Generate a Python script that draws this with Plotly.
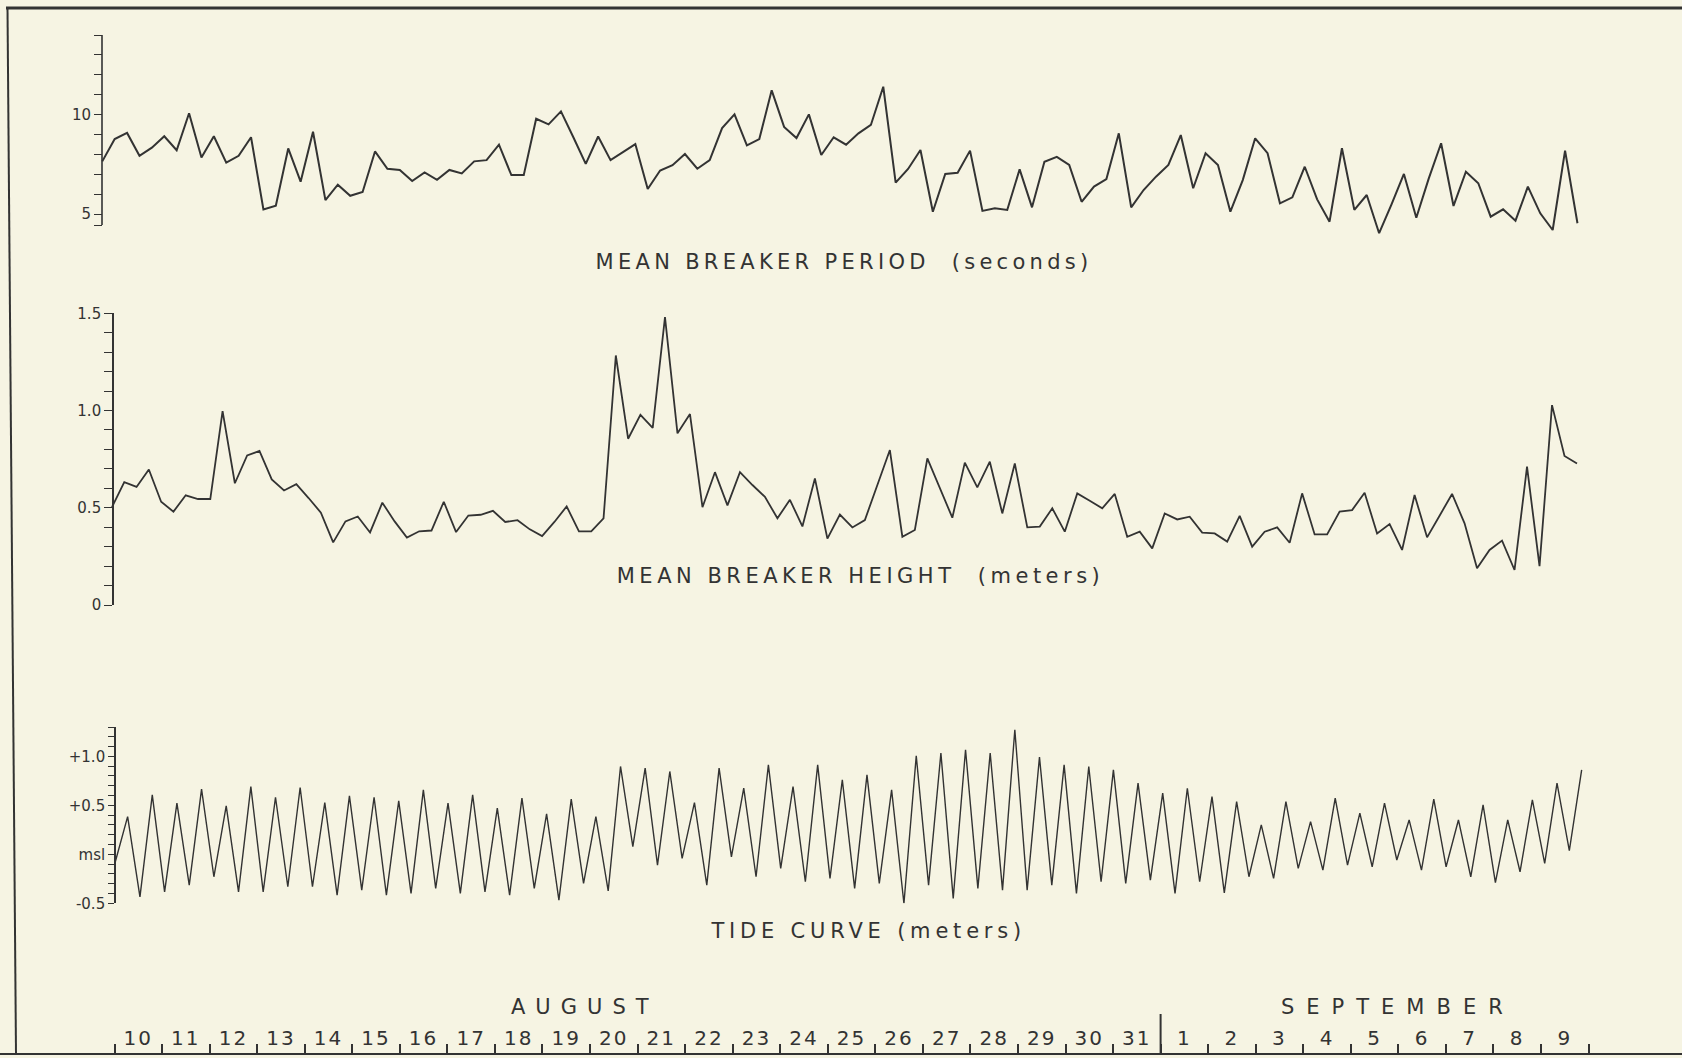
import json
import numpy as np
import plotly.graph_objects as go

# ---------------- data ----------------
DAY_LABELS = [str(d) for d in range(10, 32)] + [str(d) for d in range(1, 10)]
MONTH_LABELS = ["AUGUST", "SEPTEMBER"]
MONTH_CENTERS = [9.9, 27.0]           # days after 10 Aug 00h
MONTH_BREAK = 22                       # 1 September

PERIOD_TIME_ANCHORS = [(0, -0.257), (119, 30.767)]
HEIGHT_TIME_ANCHORS = [(0, -0.053), (45, 11.577), (118, 30.757)]
TIDE_TIME_ANCHORS = [(0, 0.017), (119, 30.855)]

PERIOD_S = [7.65, 8.77, 9.08, 7.93, 8.34, 8.91, 8.21, 10.07, 7.84, 8.91,
            7.59, 7.93, 8.86, 5.23, 5.42, 8.30, 6.63, 9.14, 5.70, 6.48,
            5.92, 6.11, 8.15, 7.28, 7.22, 6.66, 7.09, 6.72, 7.22, 7.04,
            7.65, 7.71, 8.49, 6.96, 6.96, 9.79, 9.51, 10.16, 8.86, 7.52,
            8.90, 7.71, 8.11, 8.52, 6.26, 7.19, 7.46, 8.02, 7.28, 7.71,
            9.32, 10.01, 8.45, 8.77, 11.22, 9.38, 8.82, 10.01, 7.97, 8.86,
            8.49, 9.06, 9.48, 11.40, 6.58, 7.27, 8.22, 5.12, 7.02, 7.08,
            8.19, 5.16, 5.29, 5.21, 7.25, 5.34, 7.63, 7.88, 7.47, 5.62,
            6.38, 6.76, 9.06, 5.34, 6.21, 6.88, 7.47, 8.97, 6.30, 8.06,
            7.47, 5.12, 6.71, 8.81, 8.06, 5.54, 5.84, 7.38, 5.74, 4.62,
            8.31, 5.21, 5.96, 4.04, 5.49, 7.02, 4.82, 6.78, 8.56, 5.41,
            7.13, 6.55, 4.87, 5.24, 4.67, 6.38, 5.04, 4.20, 8.19, 4.54]

HEIGHT_M = [0.503, 0.632, 0.607, 0.697, 0.531, 0.480, 0.564, 0.545, 0.545, 0.997,
            0.626, 0.769, 0.792, 0.646, 0.589, 0.621, 0.55, 0.475, 0.322, 0.430,
            0.455, 0.373, 0.526, 0.43, 0.347, 0.379, 0.383, 0.531, 0.375, 0.46,
            0.464, 0.484, 0.427, 0.436, 0.389, 0.354, 0.427, 0.507, 0.379, 0.379,
            0.446, 1.283, 0.855, 0.978, 0.911, 1.48, 0.883, 0.982, 0.503, 0.683,
            0.512, 0.683, 0.617, 0.556, 0.446, 0.541, 0.404, 0.651, 0.341, 0.465,
            0.399, 0.437, 0.617, 0.797, 0.351, 0.386, 0.754, 0.602, 0.449, 0.732,
            0.605, 0.737, 0.471, 0.728, 0.399, 0.403, 0.497, 0.377, 0.574, 0.536,
            0.497, 0.571, 0.351, 0.377, 0.291, 0.471, 0.440, 0.454, 0.372, 0.368,
            0.326, 0.458, 0.300, 0.377, 0.399, 0.320, 0.574, 0.363, 0.363, 0.480,
            0.488, 0.577, 0.368, 0.416, 0.283, 0.566, 0.348, 0.459, 0.571, 0.420,
            0.189, 0.283, 0.331, 0.180, 0.711, 0.200, 1.028, 0.766, 0.728]

TIDE_M = [-0.076, 0.385, -0.434, 0.607, -0.383, 0.522, -0.314, 0.665, -0.229, 0.494,
          -0.383, 0.692, -0.383, 0.583, -0.331, 0.682, -0.331, 0.528, -0.417, 0.597,
          -0.365, 0.583, -0.417, 0.546, -0.399, 0.658, -0.348, 0.522, -0.399, 0.607,
          -0.383, 0.471, -0.417, 0.573, -0.348, 0.412, -0.468, 0.563, -0.297, 0.385,
          -0.373, 0.897, 0.078, 0.880, -0.110, 0.846, -0.041, 0.528, -0.314, 0.880,
          -0.025, 0.675, -0.229, 0.914, -0.143, 0.692, -0.280, 0.914, -0.246, 0.76,
          -0.348, 0.812, -0.297, 0.658, -0.502, 1.006, -0.314, 1.034, -0.45, 1.068,
          -0.348, 1.034, -0.365, 1.272, -0.365, 0.993, -0.314, 0.914, -0.399, 0.897,
          -0.280, 0.863, -0.297, 0.727, -0.263, 0.624, -0.399, 0.675, -0.280, 0.590,
          -0.393, 0.538, -0.229, 0.300, -0.246, 0.538, -0.143, 0.334, -0.161, 0.573,
          -0.110, 0.420, -0.127, 0.522, -0.058, 0.351, -0.161, 0.563, -0.127, 0.351,
          -0.229, 0.505, -0.29, 0.351, -0.178, 0.556, -0.092, 0.727, 0.037, 0.863]

PERIOD_RANGE = [4, 14]
PERIOD_AXIS_SPAN = [4.45, 14]          # drawn extent of the period axis
PERIOD_TICKS = [4.45] + list(range(5, 15))
PERIOD_TICKTEXT = {5: "5", 10: "10"}
HEIGHT_RANGE = [0, 1.5]
HEIGHT_TICKS = [round(0.1 * i, 1) for i in range(0, 16)]
HEIGHT_TICKTEXT = {0.0: "0", 0.5: "0.5", 1.0: "1.0", 1.5: "1.5"}
TIDE_RANGE = [-0.5, 1.3]
TIDE_TICKS = [round(-0.5 + 0.1 * i, 1) for i in range(0, 19)]
TIDE_TICKTEXT = {-0.5: "-0.5", 0.0: "msl", 0.5: "+0.5", 1.0: "+1.0"}

TITLES = ["MEAN BREAKER PERIOD  (seconds)", "MEAN BREAKER HEIGHT  (meters)",
          "TIDE CURVE (meters)"]

# ---------------- styling ----------------
W, H = 1682, 1058
BG = "#f6f4e3"
INK = "#333333"
FONT = "DejaVu Sans"


def py(p):
    return 1 - p / H


def px_(x):
    return x / W


def times(anchors, n):
    idx = [a[0] for a in anchors]
    t = [a[1] for a in anchors]
    return np.interp(np.arange(n), idx, t)


def labels(ticks, mapping):
    return [mapping.get(t, "") for t in ticks]


fig = go.Figure()
fig.add_trace(go.Scatter(x=times(PERIOD_TIME_ANCHORS, len(PERIOD_S)), y=PERIOD_S,
                         mode="lines", line=dict(color=INK, width=2), xaxis="x", yaxis="y",
                         hoverinfo="skip", showlegend=False))
fig.add_trace(go.Scatter(x=times(HEIGHT_TIME_ANCHORS, len(HEIGHT_M)), y=HEIGHT_M,
                         mode="lines", line=dict(color=INK, width=1.8), xaxis="x", yaxis="y2",
                         hoverinfo="skip", showlegend=False))
fig.add_trace(go.Scatter(x=times(TIDE_TIME_ANCHORS, len(TIDE_M)), y=TIDE_M,
                         mode="lines", line=dict(color=INK, width=1.4), xaxis="x", yaxis="y3",
                         hoverinfo="skip", showlegend=False))

px_per_day = 47.55
x0 = -114.5 / px_per_day
x1 = x0 + W / px_per_day

yaxis_common = dict(anchor="free", linecolor=INK, linewidth=1.6, automargin=False,
                    ticks="outside", tickwidth=1.4, tickcolor=INK,
                    showgrid=False, zeroline=False, tickmode="array",
                    tickfont=dict(family=FONT, size=15, color=INK), fixedrange=True)

# panel 1 pixel scale: 10 at 114.6 px, 5 at 214.1 px
p_unit = (214.1 - 114.6) / 5
p_top = 114.6 - (PERIOD_RANGE[1] - 10) * p_unit
p_bot = 214.1 + (5 - PERIOD_RANGE[0]) * p_unit
P1_X = 102

fig.update_layout(
    width=W, height=H, autosize=False,
    margin=dict(l=0, r=0, t=0, b=0, pad=0, autoexpand=False),
    paper_bgcolor=BG, plot_bgcolor=BG,
    xaxis=dict(domain=[0, 1], range=[x0, x1], anchor="free", position=py(1054),
               side="top", showline=True, linecolor=INK, linewidth=2, automargin=False,
               showgrid=False, zeroline=False, tickmode="array",
               tickvals=[i + 0.5 for i in range(len(DAY_LABELS))], ticktext=DAY_LABELS,
               ticks="", ticklen=0, ticklabelstandoff=0,
               tickfont=dict(family=FONT, size=20, color=INK),
               minor=dict(tickmode="array", tickvals=list(range(len(DAY_LABELS) + 1)),
                          ticks="outside", ticklen=9, tickwidth=1.5, tickcolor=INK,
                          showgrid=False),
               fixedrange=True),
    yaxis=dict(domain=[py(p_bot), py(p_top)], range=PERIOD_RANGE, position=px_(P1_X),
               showline=False,
               tickvals=PERIOD_TICKS, ticktext=labels(PERIOD_TICKS, PERIOD_TICKTEXT),
               ticklen=8, **yaxis_common),
    yaxis2=dict(domain=[py(605), py(313.3)], range=HEIGHT_RANGE, position=px_(113),
                showline=True,
                tickvals=HEIGHT_TICKS, ticktext=labels(HEIGHT_TICKS, HEIGHT_TICKTEXT),
                ticklen=8, **yaxis_common),
    yaxis3=dict(domain=[py(903.3), py(727)], range=TIDE_RANGE, position=px_(115),
                showline=True,
                tickvals=TIDE_TICKS, ticktext=labels(TIDE_TICKS, TIDE_TICKTEXT),
                ticklen=6, **yaxis_common),
)

# period axis line (only over its drawn extent)
fig.add_shape(type="line", xref="paper", yref="y", x0=px_(P1_X), x1=px_(P1_X),
              y0=PERIOD_AXIS_SPAN[0], y1=PERIOD_AXIS_SPAN[1],
              line=dict(color=INK, width=1.6))
# frame of the page (slightly skewed scan)
fig.add_shape(type="line", xref="paper", yref="paper", x0=px_(6), x1=1, y0=py(8), y1=py(8),
              line=dict(color=INK, width=3))
fig.add_shape(type="line", xref="paper", yref="paper", x0=px_(7.5), x1=px_(16),
              y0=py(8), y1=py(1054), line=dict(color=INK, width=2))
# month separator
fig.add_shape(type="line", xref="x", yref="paper", x0=MONTH_BREAK, x1=MONTH_BREAK,
              y0=py(1054), y1=py(1014), line=dict(color=INK, width=2))

title_pos = [(844, 262), (860, 576), (868, 931)]
for t, (x, y) in zip(TITLES, title_pos):
    fig.add_annotation(text=t, xref="paper", yref="paper", x=px_(x), y=py(y),
                       xanchor="center", yanchor="middle", showarrow=False,
                       font=dict(family=FONT, size=21, color=INK))
for t, c in zip(MONTH_LABELS, MONTH_CENTERS):
    fig.add_annotation(text=t, xref="x", yref="paper", x=c, y=py(1006.5),
                       xanchor="center", yanchor="middle", showarrow=False,
                       font=dict(family=FONT, size=21, color=INK))

SPACING = [4.3, 4.5, 4.8, 10, 12]
post = """
var gd = document.getElementById('{plot_id}');
var sp = %s;
function applySpacing() {
  var anns = gd.querySelectorAll('g.annotation text.annotation-text');
  anns.forEach(function(t, i) { if (i < sp.length) { t.style.letterSpacing = sp[i] + 'px'; } });
  gd.querySelectorAll('g.xtick text').forEach(function(t) { t.style.letterSpacing = '2px'; });
}
applySpacing();
if (gd.on) { gd.on('plotly_afterplot', applySpacing); }
""" % json.dumps(SPACING)

fig.write_html("out.html", post_script=post, config={"displayModeBar": False})
